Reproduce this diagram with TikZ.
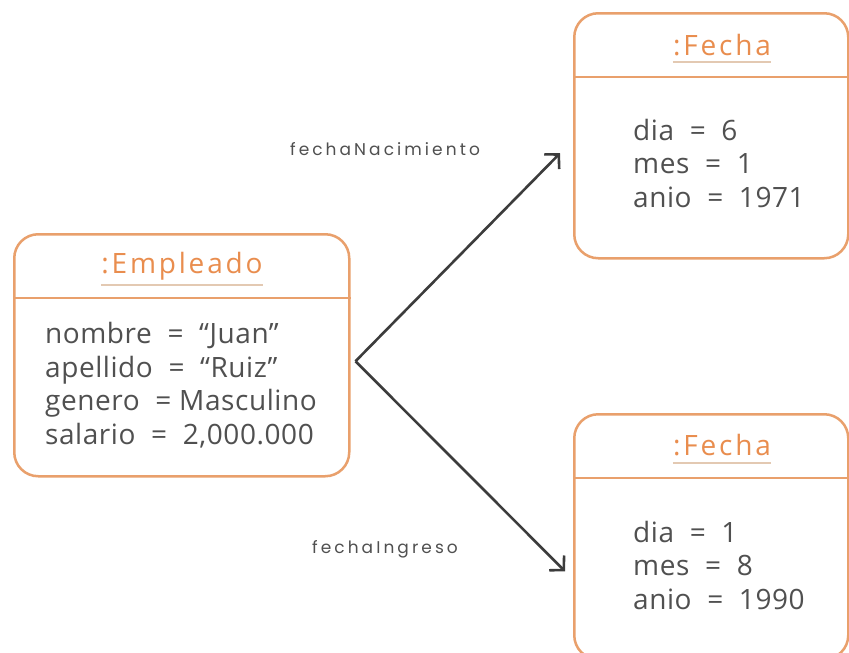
\documentclass[tikz,border=0pt]{standalone}
\usepackage{fontspec}
\setmainfont{Open Sans}
\newfontfamily\titlefont[LetterSpace=10]{Open Sans}
\newfontfamily\attrfont[LetterSpace=2]{Open Sans}
\newfontfamily\lblfont[LetterSpace=18]{Poppins}
\usetikzlibrary{arrows.meta,calc}
\definecolor{boxorange}{HTML}{E9A06C}
\definecolor{titleorange}{HTML}{E98D4E}
\definecolor{uline}{HTML}{E3C9B2}
\definecolor{txtgray}{HTML}{505050}
\definecolor{lblgray}{HTML}{505050}
\definecolor{arrowgray}{HTML}{3C3C3C}
\tikzset{
  objbox/.style={draw=boxorange, line width=2.5pt, rounded corners=24pt, fill=white, inner sep=0pt},
  divider/.style={draw=boxorange, line width=2.5pt},
  objtitle/.style={text=titleorange, font=\titlefont\fontsize{28}{32}\selectfont, inner sep=0pt, anchor=base},
  titleline/.style={draw=uline, line width=1.2pt},
  attrs/.style={text=txtgray, font=\attrfont\fontsize{28}{33.5}\selectfont, align=left, inner sep=0pt, anchor=base west},
  lbl/.style={text=lblgray, font=\lblfont\fontsize{17}{20}\selectfont, inner sep=0pt},
  link/.style={draw=arrowgray, line width=2.6pt, -{Straight Barb[length=10pt,width=21pt,line width=2.6pt]}}
}
\begin{document}
\begin{tikzpicture}[x=1pt,y=-1pt]
\clip (0,0) rectangle (849,653);
\fill[white] (0,0) rectangle (849,653);
% boxes
\node[objbox, minimum width=335pt, minimum height=242pt, anchor=north west] (emp) at (13,233) {};
\node[objbox, minimum width=274pt, minimum height=245pt, anchor=north west] (f1) at (573,12) {};
\node[objbox, minimum width=274pt, minimum height=245pt, anchor=north west] (f2) at (573,413) {};
% dividers
\draw[divider] ($(emp.north west)+(0,65)$) -- ($(emp.north east)+(0,65)$);
\draw[divider] ($(f1.north west)+(0,65)$) -- ($(f1.north east)+(0,65)$);
\draw[divider] ($(f2.north west)+(0,65)$) -- ($(f2.north east)+(0,65)$);
% titles
\node[objtitle] (empt) at (182,273) {:Empleado};
\node[objtitle] (f1t) at (722,55) {:Fecha};
\node[objtitle] (f2t) at (722,455) {:Fecha};
\draw[titleline] ($(empt.base west)+(0,12)$) -- ($(empt.base east)+(0,12)$);
\draw[titleline] ($(f1t.base west)+(0,7)$) -- ($(f1t.base east)+(0,7)$);
\draw[titleline] ($(f2t.base west)+(0,8)$) -- ($(f2t.base east)+(0,8)$);
% attributes (base anchor = baseline of the last line)
\node[attrs] (empa) at (45,444) {nombre\ \ =\ \ “Juan”\\apellido\ \ =\ \ “Ruiz”\\genero\ \ = Masculino\\salario\ \ =\ \ 2,000.000};
\node[attrs] (f1a) at (633,207) {dia\ \ =\ \ 6\\mes\ \ =\ \ 1\\anio\ \ =\ \ 1971};
\node[attrs] (f2a) at (633,609) {dia\ \ =\ \ 1\\mes\ \ =\ \ 8\\anio\ \ =\ \ 1990};
% connectors
\coordinate (v) at ($(emp.east)+(5,6)$);
\coordinate (e1) at ($(f1.west)+(-13,17.5)$);
\coordinate (e2) at ($(f2.west)+(-8,34.5)$);
\draw[link] (v) -- (e1);
\draw[link] (v) -- (e2);
\node[lbl] (l1) at (385,149) {fechaNacimiento};
\node[lbl] (l2) at (385,549) {fechaIngreso};
\end{tikzpicture}
\end{document}
